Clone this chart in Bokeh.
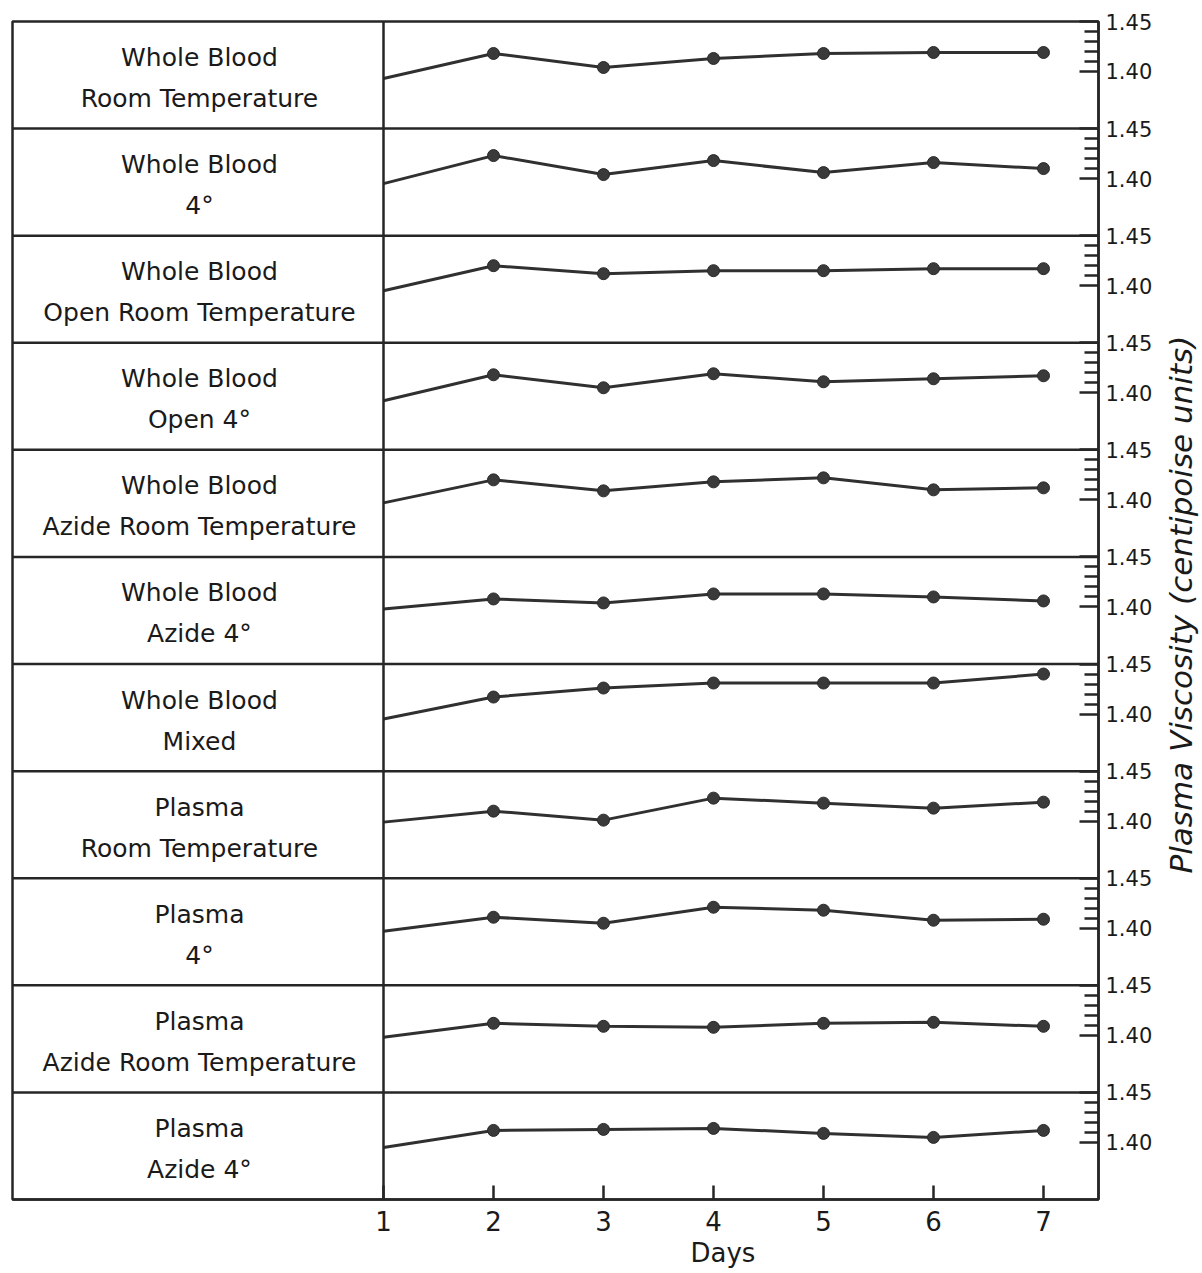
import math
from bokeh.plotting import figure
from bokeh.layouts import row
from bokeh.models import Range1d, FixedTicker, Span, Title, ColumnDataSource
from bokeh.core.properties import value
from bokeh.embed import file_html
from bokeh.resources import INLINE

# ---------------- data ----------------
days = [1, 2, 3, 4, 5, 6, 7]
day_tick_labels = ["1", "2", "3", "4", "5", "6", "7"]

panel_line1 = ["Whole Blood", "Whole Blood", "Whole Blood", "Whole Blood", "Whole Blood",
               "Whole Blood", "Whole Blood", "Plasma", "Plasma", "Plasma", "Plasma"]
panel_line2 = ["Room Temperature", "4°", "Open Room Temperature", "Open 4°",
               "Azide Room Temperature", "Azide 4°", "Mixed", "Room Temperature", "4°",
               "Azide Room Temperature", "Azide 4°"]

wb_room_temp = [1.393, 1.418, 1.404, 1.413, 1.418, 1.419, 1.419]
wb_4c = [1.395, 1.423, 1.404, 1.418, 1.406, 1.416, 1.410]
wb_open_room_temp = [1.395, 1.420, 1.412, 1.415, 1.415, 1.417, 1.417]
wb_open_4c = [1.392, 1.418, 1.405, 1.419, 1.411, 1.414, 1.417]
wb_azide_room_temp = [1.397, 1.420, 1.409, 1.418, 1.422, 1.410, 1.412]
wb_azide_4c = [1.398, 1.408, 1.404, 1.413, 1.413, 1.410, 1.406]
wb_mixed = [1.395, 1.417, 1.426, 1.431, 1.431, 1.431, 1.440]
plasma_room_temp = [1.399, 1.410, 1.401, 1.423, 1.418, 1.413, 1.419]
plasma_4c = [1.397, 1.411, 1.405, 1.421, 1.418, 1.408, 1.409]
plasma_azide_room_temp = [1.398, 1.412, 1.409, 1.408, 1.412, 1.413, 1.409]
plasma_azide_4c = [1.395, 1.412, 1.413, 1.414, 1.409, 1.405, 1.412]

series = [wb_room_temp, wb_4c, wb_open_room_temp, wb_open_4c, wb_azide_room_temp,
          wb_azide_4c, wb_mixed, plasma_room_temp, plasma_4c, plasma_azide_room_temp,
          plasma_azide_4c]

y_major_values = [1.40, 1.45]
y_major_labels = ["1.40", "1.45"]
y_minor_values = [1.41, 1.42, 1.43, 1.44]

x_title = "Days"
y_title = "Plasma Viscosity (centipoise units)"

# ---------------- layout constants ----------------
Y_TOP = 1.45          # value at the top border of each panel
PANEL_SPAN = 0.1071   # value span covered by one panel
N = len(series)
X_START = -2.3727     # left edge of the label column, in day units
X_END = 7.5
LABEL_X = -0.673
HEIGHT = 1272

INK = "#262626"
TXT = "#1a1a1a"
FONT = "DejaVu Sans"

p = figure(width=1160, height=HEIGHT, output_backend="svg", toolbar_location=None,
           x_range=Range1d(X_START, X_END),
           y_range=Range1d(Y_TOP - N * PANEL_SPAN, Y_TOP),
           y_axis_location="right", title=None,
           min_border_left=12, min_border_right=62, min_border_top=21, min_border_bottom=73)
p.background_fill_color = "white"
p.border_fill_color = "white"
p.outline_line_color = INK
p.outline_line_width = 2.5
p.xgrid.visible = False
p.ygrid.visible = False

# per-panel ranges
for k in range(N):
    p.extra_y_ranges[f"panel{k}"] = Range1d(Y_TOP - N * PANEL_SPAN + k * PANEL_SPAN,
                                            Y_TOP + k * PANEL_SPAN)

# dividers
for k in range(1, N):
    p.add_layout(Span(location=Y_TOP - k * PANEL_SPAN, dimension="width",
                      line_color=INK, line_width=2.5))
p.add_layout(Span(location=days[0], dimension="height", line_color=INK, line_width=2.5))

# series
for k, vals in enumerate(series):
    name = f"panel{k}"
    p.line(days, vals, y_range_name=name, line_color="#303030", line_width=3)
    p.scatter(days[1:], vals[1:], y_range_name=name, size=12, marker="circle",
              fill_color="#3a3a3a", line_color="#2a2a2a", line_width=1)

# panel labels
tops = [Y_TOP - k * PANEL_SPAN for k in range(N)]
src = ColumnDataSource(dict(x=[LABEL_X] * N, y=tops, l1=panel_line1, l2=panel_line2))
for col, off in (("l1", 36), ("l2", 77)):
    p.text(x="x", y="y", text=col, source=src, y_offset=off, text_align="center",
           text_baseline="middle", text_font=value(FONT), text_font_size="25px",
           text_color=TXT)

# x axis
xa = p.xaxis[0]
xa.ticker = FixedTicker(ticks=days, minor_ticks=[])
xa.major_label_overrides = {d: s for d, s in zip(days, day_tick_labels)}
xa.major_tick_in = 14
xa.major_tick_out = 0
xa.major_tick_line_color = INK
xa.major_tick_line_width = 2.5
xa.axis_line_color = INK
xa.axis_line_width = 2.5
xa.major_label_standoff = 11
xa.major_label_text_font = FONT
xa.major_label_text_font_size = "26px"
xa.major_label_text_color = TXT

# right axis: repeated 1.40 / 1.45 scale for every panel
major_ticks, minor_ticks, overrides = [], [], {}
for k in range(N):
    shift = -k * PANEL_SPAN
    for v, s in zip(y_major_values, y_major_labels):
        t = v + shift
        major_ticks.append(t)
        overrides[t] = s
    for v in y_minor_values:
        minor_ticks.append(v + shift)
ya = p.yaxis[0]
ya.ticker = FixedTicker(ticks=major_ticks, minor_ticks=minor_ticks)
ya.major_label_overrides = overrides
ya.major_tick_in = 19
ya.major_tick_out = 0
ya.minor_tick_in = 14
ya.minor_tick_out = 0
ya.major_tick_line_color = INK
ya.minor_tick_line_color = INK
ya.major_tick_line_width = 2.5
ya.minor_tick_line_width = 2.5
ya.axis_line_color = INK
ya.axis_line_width = 2.5
ya.major_label_standoff = 7
ya.major_label_text_font = FONT
ya.major_label_text_font_size = "21px"
ya.major_label_text_color = TXT

# x title ("Days") placed under the day scale
t = Title(text=x_title, align="left", offset=678, standoff=4, text_font=FONT,
          text_font_size="26px", text_font_style="normal", text_color=TXT)
p.add_layout(t, "below")

# narrow strip on the right carrying the rotated y title (reads bottom-to-top)
q = figure(width=40, height=HEIGHT, output_backend="svg", toolbar_location=None,
           x_range=Range1d(0, 1), y_range=Range1d(0, 1), title=None,
           min_border=0, outline_line_color=None)
q.axis.visible = False
q.grid.visible = False
q.background_fill_color = "white"
q.border_fill_color = "white"
q.text(x=[0.5], y=[0.505], text=[y_title], angle=math.pi / 2, text_align="center",
       text_baseline="middle", text_font=value(FONT), text_font_style="italic",
       text_font_size="31px", text_color=TXT)

layout = row(p, q)
open("out.html", "w").write(file_html(layout, INLINE))
